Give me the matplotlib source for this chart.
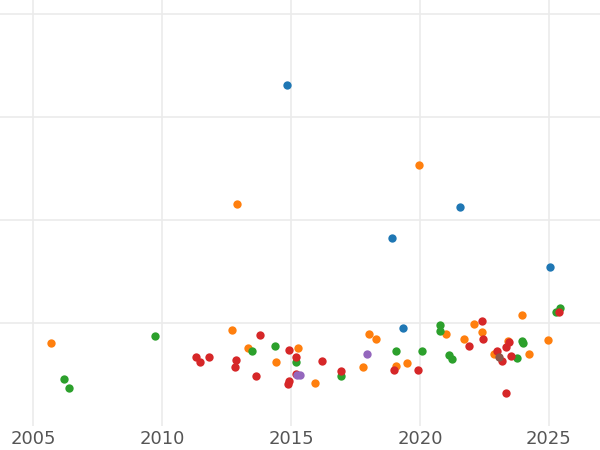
import matplotlib
matplotlib.use("Agg")
import matplotlib.pyplot as plt

blue_x = [2014.84, 2021.55, 2018.91, 2025.04, 2019.34]
blue_y = [3.31, 2.13, 1.83, 1.55, 0.95]
orange_x = [2005.70, 2012.91, 2019.96, 2012.71, 2013.33, 2014.42, 2015.27, 2015.93, 2017.79, 2018.02, 2018.29,
            2019.07, 2019.50, 2021.01, 2021.71, 2022.09, 2022.40, 2022.87, 2023.95, 2024.22, 2024.96, 2023.41]
orange_y = [0.81, 2.16, 2.54, 0.93, 0.76, 0.62, 0.76, 0.42, 0.57, 0.89, 0.85,
            0.58, 0.61, 0.89, 0.85, 0.99, 0.91, 0.70, 1.08, 0.70, 0.84, 0.83]
green_x = [2006.20, 2006.40, 2009.73, 2013.49, 2014.38, 2015.19, 2016.94, 2019.07, 2020.08, 2020.78, 2020.78,
           2021.12, 2021.24, 2023.76, 2023.95, 2023.99, 2025.43, 2025.27]
green_y = [0.46, 0.37, 0.87, 0.73, 0.78, 0.62, 0.49, 0.73, 0.73, 0.98, 0.92,
           0.69, 0.65, 0.66, 0.83, 0.81, 1.15, 1.11]
red_x = [2011.32, 2011.47, 2011.82, 2012.87, 2012.83, 2013.64, 2013.80, 2014.92, 2015.19, 2015.19, 2014.92,
         2014.88, 2016.20, 2016.94, 2018.99, 2019.92, 2021.90, 2022.40, 2022.44, 2022.98, 2023.18, 2023.33,
         2023.45, 2023.53, 2023.33, 2025.39]
red_y = [0.67, 0.62, 0.67, 0.64, 0.57, 0.49, 0.88, 0.74, 0.67, 0.51, 0.44,
         0.41, 0.63, 0.53, 0.54, 0.54, 0.78, 1.02, 0.85, 0.73, 0.63, 0.77,
         0.82, 0.68, 0.32, 1.11]
purple_x = [2017.95, 2015.35, 2015.23]
purple_y = [0.70, 0.50, 0.50]
brown_x = [2023.06]
brown_y = [0.67]

series = [(blue_x, blue_y, "#1f77b4"), (orange_x, orange_y, "#ff7f0e"), (green_x, green_y, "#2ca02c"),
          (red_x, red_y, "#d62728"), (purple_x, purple_y, "#9467bd"), (brown_x, brown_y, "#8c564b")]

fig = plt.figure(figsize=(6, 4.5), dpi=100)
ax = fig.add_axes([0, 24 / 450, 1, 426 / 450])
for xs, ys, c in series:
    ax.scatter(xs, ys, s=36, color=c, linewidths=0, zorder=3)

ax.set_xlim(2003.72, 2026.98)
ax.set_ylim(0, 4.14)
ax.set_xticks([2005, 2010, 2015, 2020, 2025])
ax.set_yticks([1, 2, 3, 4])
ax.set_yticklabels([])
ax.grid(True, color="#ebebeb", linewidth=1.2)
for s in ax.spines.values():
    s.set_visible(False)
ax.tick_params(length=0, labelsize=13, labelcolor="#555555", pad=3)
fig.savefig("out.png", dpi=100)
